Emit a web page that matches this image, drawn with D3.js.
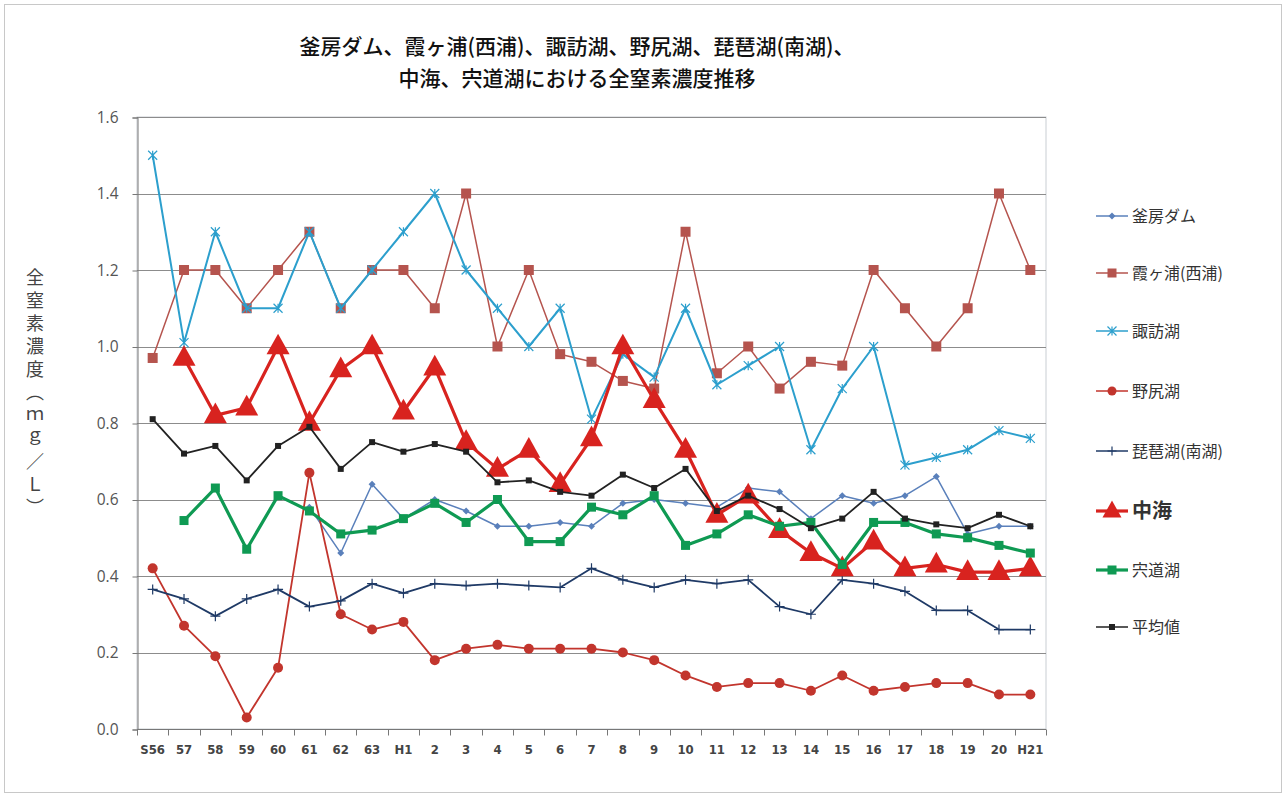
<!DOCTYPE html>
<html><head><meta charset="utf-8">
<script src="https://cdn.jsdelivr.net/npm/d3@7"></script>
<style>
html,body{margin:0;padding:0;background:#fff;}
svg{display:block;font-family:"Noto Sans CJK JP","Noto Sans",sans-serif;}
</style></head>
<body><svg id="c" width="1285" height="798"></svg>
<script>
const categories = ["S56","57","58","59","60","61","62","63","H1","2","3","4","5","6","7","8","9","10","11","12","13","14","15","16","17","18","19","20","H21"];
const yTicks = [0,0.2,0.4,0.6,0.8,1.0,1.2,1.4,1.6];
const kamafusa = [null,null,null,null,null,0.58,0.46,0.64,0.55,0.60,0.57,0.53,0.53,0.54,0.53,0.59,0.60,0.59,0.58,0.63,0.62,0.55,0.61,0.59,0.61,0.66,0.51,0.53,0.53];
const kasumi = [0.97,1.2,1.2,1.1,1.2,1.3,1.1,1.2,1.2,1.1,1.4,1.0,1.2,0.98,0.96,0.91,0.89,1.3,0.93,1.0,0.89,0.96,0.95,1.2,1.1,1.0,1.1,1.4,1.2];
const suwa = [1.5,1.01,1.3,1.1,1.1,1.3,1.1,1.2,1.3,1.4,1.2,1.1,1.0,1.1,0.81,0.98,0.92,1.1,0.9,0.95,1.0,0.73,0.89,1.0,0.69,0.71,0.73,0.78,0.76];
const nojiri = [0.42,0.27,0.19,0.03,0.16,0.67,0.30,0.26,0.28,0.18,0.21,0.22,0.21,0.21,0.21,0.20,0.18,0.14,0.11,0.12,0.12,0.10,0.14,0.10,0.11,0.12,0.12,0.09,0.09];
const biwa = [0.365,0.34,0.295,0.34,0.365,0.32,0.335,0.38,0.355,0.38,0.375,0.38,0.375,0.37,0.42,0.39,0.37,0.39,0.38,0.39,0.32,0.30,0.39,0.38,0.36,0.31,0.31,0.26,0.26];
const nakaumi = [null,0.97,0.82,0.84,1.0,0.80,0.94,1.0,0.83,0.945,0.75,0.68,0.73,0.64,0.76,1.0,0.86,0.73,0.56,0.61,0.52,0.46,0.42,0.49,0.42,0.43,0.41,0.41,0.42];
const shinji = [null,0.545,0.63,0.47,0.61,0.57,0.51,0.52,0.55,0.59,0.54,0.60,0.49,0.49,0.58,0.56,0.61,0.48,0.51,0.56,0.53,0.54,0.43,0.54,0.54,0.51,0.50,0.48,0.46];
const average = [0.81,0.72,0.74,0.65,0.74,0.79,0.68,0.75,0.725,0.745,0.725,0.645,0.65,0.62,0.61,0.665,0.63,0.68,0.57,0.61,0.575,0.525,0.55,0.62,0.55,0.535,0.525,0.56,0.53];
const seriesNames = ["釜房ダム","霞ヶ浦(西浦)","諏訪湖","野尻湖","琵琶湖(南湖)","中海","宍道湖","平均値"];

const series = [
  {name:seriesNames[0], data:kamafusa, color:"#5a80bb", width:1.5, marker:"diamond", size:7},
  {name:seriesNames[1], data:kasumi, color:"#b5544e", width:1.5, marker:"square", size:10},
  {name:seriesNames[2], data:suwa, color:"#2c9fcd", width:2, marker:"star", size:9},
  {name:seriesNames[3], data:nojiri, color:"#c2352d", width:1.8, marker:"circle", size:10},
  {name:seriesNames[4], data:biwa, color:"#1f3a66", width:1.8, marker:"plus", size:10},
  {name:seriesNames[5], data:nakaumi, color:"#d8231f", width:3.2, marker:"triangle", size:23},
  {name:seriesNames[6], data:shinji, color:"#0f9a53", width:3.2, marker:"square", size:9},
  {name:seriesNames[7], data:average, color:"#222222", width:1.8, marker:"square", size:6}
];

const svg = d3.select("#c");
svg.append("rect").attr("x",4.5).attr("y",4.5).attr("width",1277).attr("height",788)
  .attr("fill","#fff").attr("stroke","#c8c8c8").attr("stroke-width",1);

const m = {l:137, r:1046, t:117, b:729};
const x = d3.scalePoint().domain(categories).range([m.l, m.r]).padding(0.5);
const y = d3.scaleLinear().domain([0,1.6]).range([m.b, m.t]);
const step = x.step();

svg.append("rect").attr("x",m.l).attr("y",m.t).attr("width",m.r-m.l).attr("height",m.b-m.t)
  .attr("fill","none").attr("stroke","#c9ced3").attr("stroke-width",1);

svg.append("g").selectAll("line").data(yTicks.filter(d=>d>0)).join("line")
  .attr("x1",m.l).attr("x2",m.r).attr("y1",d=>Math.round(y(d))+0.5).attr("y2",d=>Math.round(y(d))+0.5)
  .attr("stroke","#8c8c8c").attr("stroke-width",1);

const yAxis = d3.axisLeft(y).tickValues(yTicks).tickFormat(d3.format(".1f")).tickSize(5).tickPadding(14);
const gy = svg.append("g").attr("transform",`translate(${m.l+0.5},0.5)`).call(yAxis);
gy.select(".domain").attr("stroke","#777");
gy.selectAll(".tick line").attr("stroke","#777");
gy.selectAll("text").attr("font-family","'Open Sans','Noto Sans',sans-serif").attr("font-size",15.5).attr("fill","#555");

const gx = svg.append("g").attr("transform",`translate(0,${m.b+0.5})`);
gx.append("line").attr("x1",m.l).attr("x2",m.r).attr("stroke","#777");
const bounds = d3.range(categories.length+1).map(i=>m.l + i*step);
gx.selectAll("line.tk").data(bounds).join("line").attr("class","tk")
  .attr("x1",d=>Math.round(d)+0.5).attr("x2",d=>Math.round(d)+0.5).attr("y1",0).attr("y2",6).attr("stroke","#777");
gx.selectAll("text").data(categories).join("text")
  .attr("x",d=>x(d)).attr("y",24).attr("text-anchor","middle")
  .attr("font-family","'Liberation Sans Narrow','DejaVu Sans Condensed',sans-serif")
  .attr("font-weight","bold").attr("font-size",13).attr("fill","#444").text(d=>d);

function drawMarker(g, type, cx, cy, s, color){
  if(type==="square"){
    g.append("rect").attr("x",cx-s/2).attr("y",cy-s/2).attr("width",s).attr("height",s).attr("fill",color);
  } else if(type==="diamond"){
    g.append("path").attr("d",`M${cx},${cy-s/2}L${cx+s/2},${cy}L${cx},${cy+s/2}L${cx-s/2},${cy}Z`).attr("fill",color);
  } else if(type==="circle"){
    g.append("circle").attr("cx",cx).attr("cy",cy).attr("r",s/2).attr("fill",color);
  } else if(type==="triangle"){
    const h = s*0.9;
    g.append("path").attr("d",`M${cx},${cy-h*0.62}L${cx+s/2},${cy+h*0.38}L${cx-s/2},${cy+h*0.38}Z`).attr("fill",color);
  } else if(type==="plus"){
    g.append("path").attr("d",`M${cx-s/2},${cy}H${cx+s/2}M${cx},${cy-s/2}V${cy+s/2}`).attr("stroke",color).attr("stroke-width",1.2).attr("fill","none");
  } else if(type==="star"){
    const r=s/2;
    g.append("path").attr("d",`M${cx-r},${cy-r}L${cx+r},${cy+r}M${cx-r},${cy+r}L${cx+r},${cy-r}M${cx},${cy-r}V${cy+r}`)
      .attr("stroke",color).attr("stroke-width",1.2).attr("fill","none");
  }
}

const line = d3.line().defined(d=>d.v!==null).x(d=>x(d.c)).y(d=>y(d.v));
series.forEach(s=>{
  const pts = categories.map((c,i)=>({c, v:s.data[i]}));
  const g = svg.append("g");
  g.append("path").datum(pts).attr("d",line).attr("fill","none").attr("stroke",s.color)
    .attr("stroke-width",s.width).attr("stroke-linejoin","round");
  pts.filter(p=>p.v!==null).forEach(p=>drawMarker(g, s.marker, x(p.c), y(p.v), s.size, s.color));
});

const legY = [216,273,331,391,451,511,570,627];
const lg = svg.append("g");
series.forEach((s,i)=>{
  const yy = legY[i];
  lg.append("line").attr("x1",1096).attr("x2",1128).attr("y1",yy).attr("y2",yy)
    .attr("stroke",s.color).attr("stroke-width",(i===5||i===6)?3.2:1.5);
  drawMarker(lg, s.marker, 1112, yy, s.marker==="triangle"?19:Math.min(s.size,9), s.color);
  lg.append("text").attr("x",1132).attr("y",yy).attr("dy","0.36em")
    .attr("font-size", i===5?20:16).attr("font-weight", i===5?"bold":"normal")
    .attr("fill","#333").text(s.name);
});

const title = svg.append("text").attr("text-anchor","middle").attr("font-size",21).attr("font-weight",500).attr("fill","#111");
title.append("tspan").attr("x",577).attr("y",54).text("釜房ダム、霞ヶ浦(西浦)、諏訪湖、野尻湖、琵琶湖(南湖)、");
title.append("tspan").attr("x",577).attr("y",86).text("中海、宍道湖における全窒素濃度推移");

svg.append("text").attr("x",35).attr("y",268)
  .style("writing-mode","vertical-rl").style("text-orientation","upright")
  .style("letter-spacing","5px")
  .attr("font-size",18).attr("fill","#444").text("全窒素濃度（ｍｇ／Ｌ）");
</script></body></html>
